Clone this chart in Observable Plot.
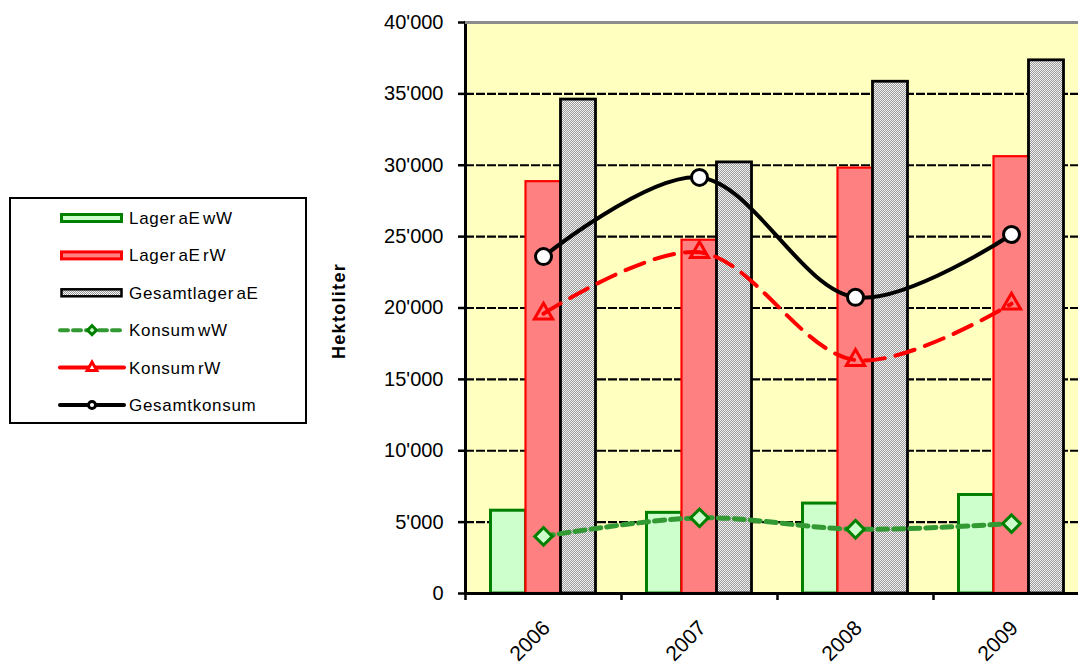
<!DOCTYPE html>
<html>
<head>
<meta charset="utf-8">
<script src="https://cdn.jsdelivr.net/npm/d3@7"></script>
<script src="https://cdn.jsdelivr.net/npm/@observablehq/plot@0.6"></script>
<style>
  html, body { margin: 0; padding: 0; background: #ffffff; overflow: hidden; width: 1078px; height: 666px; }
  #chart { position: absolute; left: 0; top: 0; width: 1090px; }
  #chart svg { max-width: none !important; }
  #overlay { position: absolute; left: 0; top: 0; }
</style>
</head>
<body>
<svg width="0" height="0" style="position:absolute">
  <defs>
    <pattern id="chk" width="2" height="2" patternUnits="userSpaceOnUse">
      <rect width="2" height="2" fill="#f2f2f2"></rect>
      <rect width="1" height="1" fill="#9a9a9a"></rect>
      <rect x="1" y="1" width="1" height="1" fill="#9a9a9a"></rect>
    </pattern>
  </defs>
</svg>
<div id="chart"></div>
<svg id="overlay" width="360" height="666"></svg>
<script>
// ---- data ----
const years = ["2006", "2007", "2008", "2009"];
const lagerWW = [5800, 5650, 6300, 6900];        // Lager aE wW
const lagerRW = [28850, 24750, 29800, 30600];    // Lager aE rW
const gesamtLager = [34600, 30200, 35850, 37350]; // Gesamtlager aE
const konsumWW = [4000, 5300, 4500, 4900];       // Konsum wW
const konsumRW = [19600, 23900, 16350, 20300];   // Konsum rW
const gesamtKonsum = [23600, 29150, 20750, 25150]; // Gesamtkonsum
const yTicks = [0, 5000, 10000, 15000, 20000, 25000, 30000, 35000, 40000];
const seriesNames = ["Lager aE wW", "Lager aE rW", "Gesamtlager aE", "Konsum wW", "Konsum rW", "Gesamtkonsum"];
const yLabel = "Hektoliter";

const rows = years.map((year, i) => ({
  year,
  lagerWW: lagerWW[i], lagerRW: lagerRW[i], gesamtLager: gesamtLager[i],
  konsumWW: konsumWW[i], konsumRW: konsumRW[i], gesamtKonsum: gesamtKonsum[i]
}));

const fmt = d => d3.format(",")(d).replace(/,/g, "'");
const inset = 60.5;
const gridVals = yTicks.slice(1, -1);
const topVal = yTicks[yTicks.length - 1];

const chart = Plot.plot({
  width: 1090,
  height: 666,
  marginLeft: 465,
  marginRight: 1,
  marginTop: 22,
  marginBottom: 73,
  x: {type: "band", domain: years, padding: 0},
  y: {domain: [0, topVal]},
  style: {fontFamily: "Arial, 'Liberation Sans', sans-serif", background: "transparent", color: "black", maxWidth: "none"},
  marks: [
    Plot.frame({fill: "#FFFFC0", stroke: null}),
    Plot.ruleY(gridVals, {stroke: "black", strokeWidth: 2.2, strokeDasharray: "9,2"}),
    Plot.barY(rows, {x: "year", y: "lagerWW", fill: "#CCFFCC", stroke: "#008000", strokeWidth: 3, insetLeft: inset, insetRight: inset, dx: -35}),
    Plot.barY(rows, {x: "year", y: "lagerRW", fill: "#FF8080", stroke: "#FF0000", strokeWidth: 2.2, insetLeft: inset, insetRight: inset}),
    Plot.barY(rows, {x: "year", y: "gesamtLager", fill: "url(#chk)", stroke: "black", strokeWidth: 2.8, insetLeft: inset, insetRight: inset, dx: 35}),
    Plot.line(rows, {x: "year", y: "konsumWW", curve: "catmull-rom", stroke: "#339933", strokeWidth: 5, strokeDasharray: "10,6"}),
    Plot.line(rows, {x: "year", y: "konsumRW", curve: "catmull-rom", stroke: "#FF0000", strokeWidth: 4, strokeDasharray: "20,11"}),
    Plot.line(rows, {x: "year", y: "gesamtKonsum", curve: "catmull-rom", stroke: "black", strokeWidth: 4}),
    Plot.dot(rows, {x: "year", y: "konsumWW", symbol: "square", rotate: 45, r: 7, fill: "#CCFFCC", stroke: "#008000", strokeWidth: 3}),
    Plot.dot(rows, {x: "year", y: "konsumRW", symbol: "triangle", r: 6.8, fill: "none", stroke: "#FF0000", strokeWidth: 3}),
    Plot.dot(rows, {x: "year", y: "gesamtKonsum", symbol: "circle", r: 8, fill: "white", stroke: "black", strokeWidth: 3}),
    Plot.ruleY([0], {stroke: "black", strokeWidth: 3}),
    Plot.frame({anchor: "left", stroke: "black", strokeWidth: 3}),
    Plot.ruleY([topVal], {stroke: "#8c8c8c", strokeWidth: 3}),
    Plot.axisY(yTicks, {tickSize: 7, tickPadding: 15, tickFormat: fmt, fontSize: 20, label: null, strokeWidth: 2.5}),
    Plot.axisX({tickSize: 7, dx: -78, tickFormat: () => "", label: null, strokeWidth: 2.5}),
    Plot.axisX({tickSize: 0, tickRotate: -45, fontSize: 21, tickPadding: 31, dx: 3, label: null})
  ]
});
document.getElementById("chart").appendChild(chart);

// ---- legend & y label overlay ----
const ov = d3.select("#overlay");
ov.append("text")
  .attr("transform", "translate(345,311) rotate(-90)")
  .attr("text-anchor", "middle")
  .attr("font-family", "Arial, 'Liberation Sans', sans-serif")
  .attr("font-weight", "bold")
  .attr("font-size", 18)
  .attr("letter-spacing", 1.3)
  .text(yLabel);

ov.append("rect").attr("x", 10).attr("y", 198).attr("width", 296).attr("height", 225)
  .attr("fill", "white").attr("stroke", "black").attr("stroke-width", 2);

const rowY = i => 218 + i * 37.4;
const sw0 = 60, sw1 = 123, swc = 92;
const styles = [
  {kind: "bar", fill: "#CCFFCC", stroke: "#008000", sw: 3},
  {kind: "bar", fill: "#FF8080", stroke: "#FF0000", sw: 3},
  {kind: "bar", fill: "url(#chk)", stroke: "black", sw: 2.5},
  {kind: "line", stroke: "#339933", sw: 4, dash: "8,5", sym: "diamond", mfill: "#CCFFCC", mstroke: "#008000"},
  {kind: "line", stroke: "#FF0000", sw: 4, dash: null, sym: "triangle", mfill: "white", mstroke: "#FF0000"},
  {kind: "line", stroke: "black", sw: 4, dash: null, sym: "circle", mfill: "white", mstroke: "black"}
];
seriesNames.forEach((name, i) => {
  const y = rowY(i), s = styles[i];
  const g = ov.append("g");
  if (s.kind === "bar") {
    g.append("rect").attr("x", sw0 + 1.5).attr("y", y - 3.5).attr("width", sw1 - sw0 - 3).attr("height", 7)
      .attr("fill", s.fill).attr("stroke", s.stroke).attr("stroke-width", s.sw);
  } else {
    g.append("line").attr("x1", sw0).attr("x2", sw1 + 1).attr("y1", y).attr("y2", y)
      .attr("stroke", s.stroke).attr("stroke-width", s.sw).attr("stroke-dasharray", s.dash)
      .attr("stroke-linecap", "round");
    const symType = s.sym === "diamond" ? d3.symbolSquare : s.sym === "triangle" ? d3.symbolTriangle : d3.symbolCircle;
    const rot = s.sym === "diamond" ? " rotate(45)" : "";
    g.append("path").attr("d", d3.symbol(symType, 40)()).attr("transform", `translate(${swc},${y})${rot}`)
      .attr("fill", s.mfill).attr("stroke", s.mstroke).attr("stroke-width", 3);
  }
  g.append("text").attr("x", 129).attr("y", y + 6)
    .attr("font-family", "Arial, 'Liberation Sans', sans-serif")
    .attr("font-size", 17).attr("letter-spacing", 0.7).attr("word-spacing", -3)
    .text(name);
});
</script>
</body>
</html>
